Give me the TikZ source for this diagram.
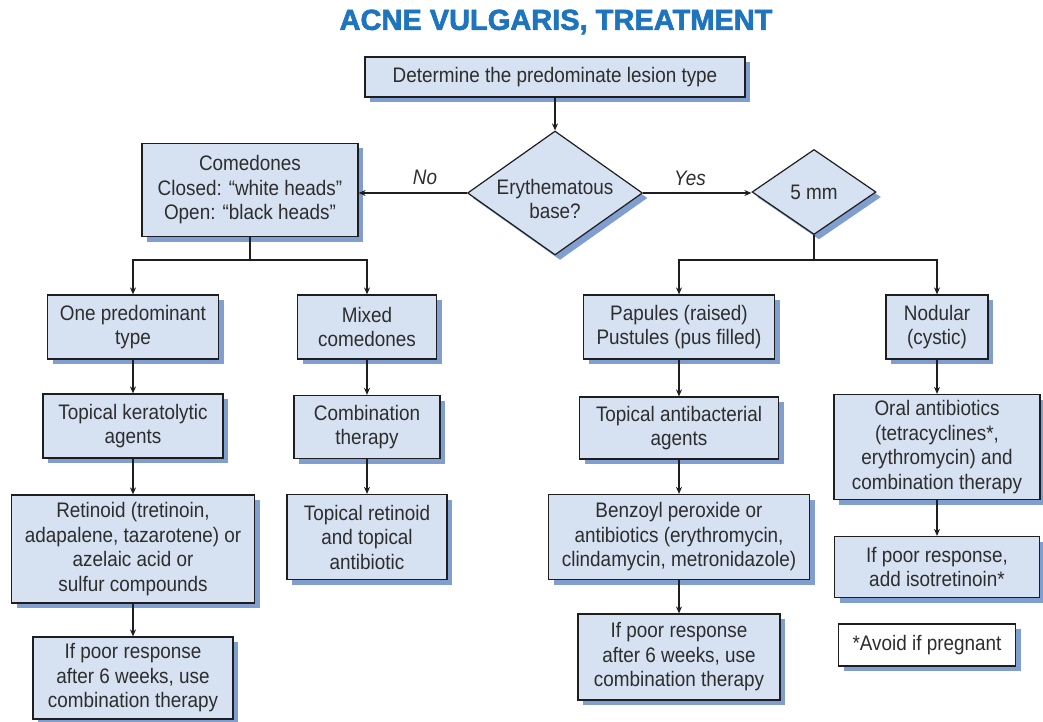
\documentclass[tikz,border=0pt]{standalone}
\usepackage{fontspec}
\setmainfont{Liberation Sans}[FakeStretch=0.9]
\newfontfamily\titlefont{Liberation Sans}[BoldFont={Liberation Sans Bold},BoldFeatures={FakeBold=2.2}]
\usetikzlibrary{arrows.meta,shapes.geometric,shadows}
\definecolor{boxfill}{RGB}{214,226,242}
\definecolor{shadowcol}{RGB}{128,158,208}
\definecolor{titleblue}{RGB}{30,117,190}
\definecolor{linecol}{RGB}{30,30,30}
\definecolor{textcol}{RGB}{45,45,45}
\tikzset{
  boxbase/.style={draw=linecol, line width=1.2pt, align=center, inner sep=2pt,
    text=textcol, font=\fontsize{21}{24.5}\selectfont,
    drop shadow={shadow xshift=5pt, shadow yshift=-5pt, fill=shadowcol, opacity=1}},
  box/.style={boxbase, fill=boxfill},
  notebox/.style={boxbase, fill=white},
  dia/.style={boxbase, fill=boxfill, diamond, inner sep=0pt},
  diatext/.style={align=center, text=textcol, font=\fontsize{21}{24.5}\selectfont},
  arr/.style={draw=linecol, line width=1.2pt, -{Stealth[length=7pt,width=6pt]}},
  ln/.style={draw=linecol, line width=1.2pt},
  lbl/.style={text=textcol, font=\fontsize{21}{24.5}\selectfont\itshape}
}
\begin{document}
\begin{tikzpicture}[x=1pt,y=-1pt]
\useasboundingbox (0,0) rectangle (1043,722);
\node[text=titleblue, font=\titlefont\bfseries\fontsize{29}{32}\selectfont] (title) at (556,22) {ACNE VULGARIS, TREATMENT};

\node[box, minimum width=380pt, minimum height=40pt] (top) at (555,77) {Determine the predominate lesion type};
\node[dia, minimum width=175pt, minimum height=124pt] (ery) at (555,193) {};
\node[diatext] (erytext) at (555,199) {Erythematous\\base?};
\node[dia, minimum width=124pt, minimum height=85pt] (mm) at (814,192) {};
\node[diatext] (mmtext) at (814,192) {5 mm};
\node[box, minimum width=216pt, minimum height=93pt] (com) at (250,190) {Comedones\\Closed: “white heads"\\Open: “black heads"};

\node[box, minimum width=171pt, minimum height=64pt] (one) at (133,327) {One predominant\\type};
\node[box, minimum width=139pt, minimum height=64pt] (mix) at (367,327) {Mixed\\comedones};
\node[box, minimum width=180pt, minimum height=64pt] (ker) at (133,426) {Topical keratolytic\\agents};
\node[box, minimum width=146pt, minimum height=63pt] (comb) at (367,427) {Combination\\therapy};
\node[box, minimum width=243pt, minimum height=108pt] (ret) at (133,549) {Retinoid (tretinoin,\\adapalene, tazarotene) or\\azelaic acid or\\sulfur compounds};
\node[box, minimum width=160pt, minimum height=85pt] (trab) at (367,537) {Topical retinoid\\and topical\\antibiotic};
\node[box, minimum width=200pt, minimum height=82pt] (poorL) at (133,678) {If poor response\\after 6 weeks, use\\combination therapy};

\node[box, minimum width=191pt, minimum height=64pt] (pap) at (679,327) {Papules (raised)\\Pustules (pus filled)};
\node[box, minimum width=102pt, minimum height=64pt] (nod) at (937,327) {Nodular\\(cystic)};
\node[box, minimum width=199pt, minimum height=62pt] (anti) at (679,428) {Topical antibacterial\\agents};
\node[box, minimum width=261pt, minimum height=85pt] (benz) at (679,537) {Benzoyl peroxide or\\antibiotics (erythromycin,\\clindamycin, metronidazole)};
\node[box, minimum width=202pt, minimum height=86pt] (poorR) at (679,657) {If poor response\\after 6 weeks, use\\combination therapy};
\node[box, minimum width=206pt, minimum height=105pt] (oral) at (937,447) {Oral antibiotics\\(tetracyclines*,\\erythromycin) and\\combination therapy};
\node[box, minimum width=205pt, minimum height=61pt] (iso) at (937,567) {If poor response,\\add isotretinoin*};
\node[notebox, minimum width=177pt, minimum height=42pt] (avoid) at (927,645) {*Avoid if pregnant};

\coordinate (jL) at (250,260);
\coordinate (jR) at (814,260);

\draw[arr] (top.south) -- (ery.north);
\draw[arr] (ery.west) -- (ery.west -| com.east);
\draw[arr] (ery.east) -- (ery.east -| mm.west);
\node[lbl] (no) at (425,177) {No};
\node[lbl] (yes) at (690,178) {Yes};

\draw[ln] (com.south) -- (jL);
\draw[arr] (jL) -| (one.north);
\draw[arr] (jL) -| (mix.north);
\draw[arr] (one.south) -- (ker.north);
\draw[arr] (ker.south) -- (ret.north);
\draw[arr] (ret.south) -- (poorL.north);
\draw[arr] (mix.south) -- (comb.north);
\draw[arr] (comb.south) -- (trab.north);

\draw[ln] (mm.south) -- (jR);
\draw[arr] (jR) -| (pap.north);
\draw[arr] (jR) -| (nod.north);
\draw[arr] (pap.south) -- (anti.north);
\draw[arr] (anti.south) -- (benz.north);
\draw[arr] (benz.south) -- (poorR.north);
\draw[arr] (nod.south) -- (oral.north);
\draw[arr] (oral.south) -- (iso.north);
\end{tikzpicture}
\end{document}
